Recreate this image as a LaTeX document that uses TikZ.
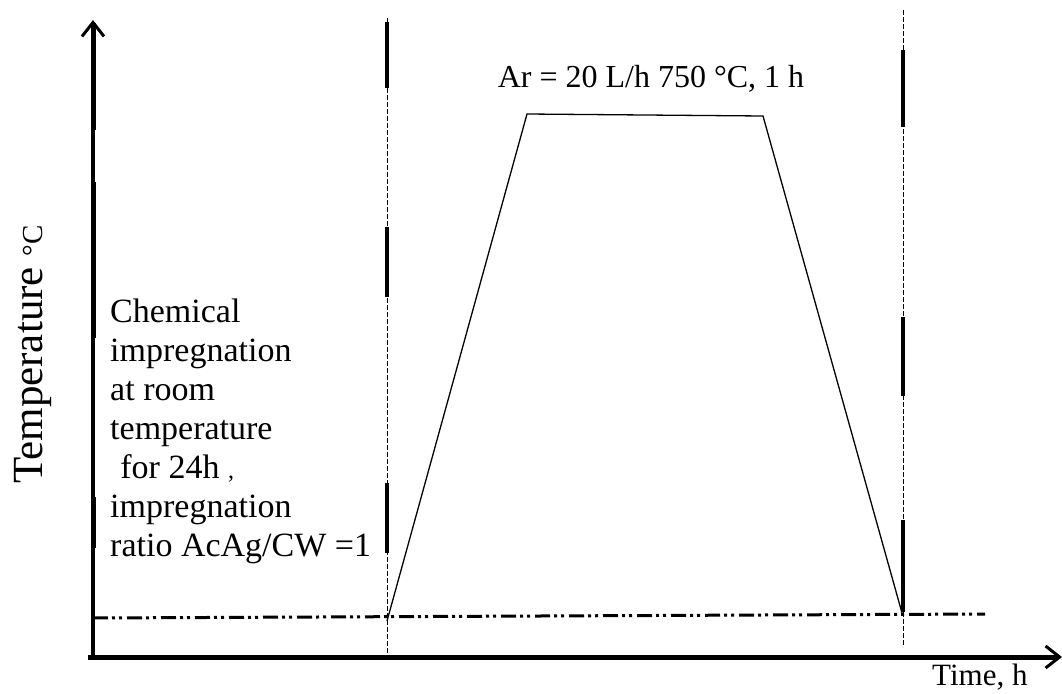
\documentclass[tikz,border=0pt]{standalone}
\usepackage{fontspec}
\setmainfont{Liberation Serif}
\usetikzlibrary{arrows.meta}
\begin{document}
\begin{tikzpicture}[x=1pt,y=-1pt,
  axisline/.style={line width=3.5pt,-{Straight Barb[length=14pt,width=22pt,line width=3pt]}},
  guide/.style={line width=1pt,dash pattern=on 5pt off 2pt},
  heavy/.style={line width=4pt},
  base/.style={line width=3pt,dash pattern=on 15pt off 4pt on 3pt off 4pt on 3pt off 5pt},
  curve/.style={line width=1.3pt,line join=miter},
  lbl/.style={inner sep=0pt,font=\fontsize{34}{39}\selectfont}]
\useasboundingbox (0,0) rectangle (1062,693);
% axes
\coordinate (O) at (88,657);
\coordinate (ytop) at (93,20);
\coordinate (xend) at (1062,657);
\draw[axisline] (93,657) -- (ytop);
\draw[line width=5pt] (93,23) -- (93,130) (93,182) -- (93,338) (93,497) -- (93,548);
\draw[axisline,line width=5pt] (O) -- (xend);
% guide verticals
\draw[guide] (387,18) -- (387,655);
\draw[heavy] (387,22) -- (387,88) (387,227) -- (387,297) (387,483) -- (387,553);
\draw[guide] (903,10) -- (903,647);
\draw[heavy] (903,50) -- (903,127) (903,317) -- (903,396) (903,520) -- (903,612);
% baseline
\draw[base] (93,618) -- (985,614);
% heating program
\coordinate (s) at (387,621);
\coordinate (a) at (527,114);
\coordinate (b) at (763,116);
\coordinate (e) at (902,613);
\draw[curve] (s) -- (a) -- (b) -- (e);
% labels
\node[lbl,font=\fontsize{32}{36}\selectfont,anchor=base] (ar) at (651,88) {Ar = 20 L/h 750 °C, 1 h};
\node[lbl,anchor=north west,align=left] (chem) at (110,299)
  {Chemical\\impregnation\\at room\\temperature\\\hspace{0.3em}for 24h {\fontsize{24}{24}\selectfont ,}\\impregnation\\ratio AcAg/CW =1};
\node[lbl,font=\fontsize{31}{34}\selectfont,anchor=base west] (time) at (932,685) {Time, h};
\node[lbl,rotate=90,anchor=base west] (temp) at (42,484)
  {\fontsize{43}{46}\selectfont Temperature\hspace{0.25em}\fontsize{29}{30}\selectfont °C};
\end{tikzpicture}
\end{document}
